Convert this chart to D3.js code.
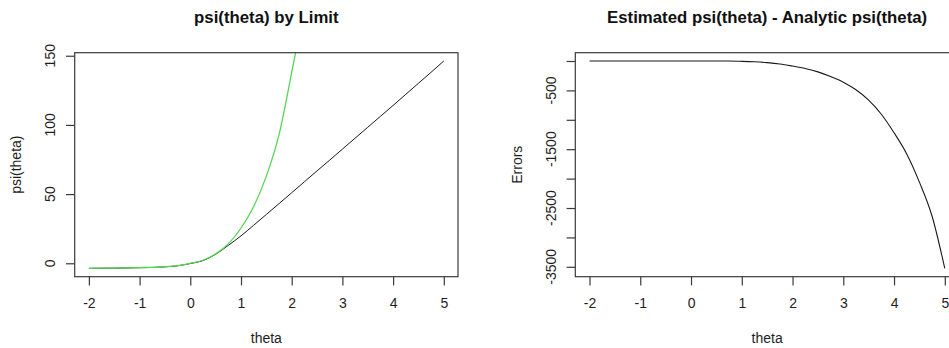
<!DOCTYPE html>
<html>
<head>
<meta charset="utf-8">
<script src="https://cdn.jsdelivr.net/npm/d3@7"></script>
<style>
    body { margin: 0; background: #fff; }
    svg text { font-family: "Liberation Sans", Arial, sans-serif; fill: #1e1e1e; }
    .title { font-size: 16.8px; font-weight: bold; fill: #111; }
    .lab { font-size: 14px; }
</style>
</head>
<body>
<div id="chart"></div>
<script>
/* jshint esversion: 6 */

// theta grid used for every series
var theta = [-2, -1.75, -1.5, -1.25, -1, -0.75, -0.5, -0.25, 0, 0.25, 0.5, 0.75, 1,
             1.25, 1.5, 1.75, 2, 2.25, 2.5, 2.75, 3, 3.25, 3.5, 3.75, 4, 4.25, 4.5, 4.75, 5];

// psi(theta) estimated by the limit (black)
var psiLimit = [-3.7, -3.6, -3.5, -3.4, -3.2, -3.0, -2.6, -1.8, -0.2, 2.0, 6.5, 13.0, 19.8,
                27.5, 35.3, 43.1, 51.0, 58.9, 66.8, 74.6, 82.5, 90.4, 98.3, 106.2, 114.1,
                122.1, 130.1, 138.1, 146.2];

// analytic psi(theta) (green)
var psiAnalytic = [-3.6, -3.5, -3.4, -3.3, -3.1, -2.9, -2.5, -1.7, 0, 2.2, 6.8, 14, 25.5,
                   41, 63, 93, 138, 187, 252, 340, 442, 580, 763, 1011, 1334,
                   1702, 2190, 2778, 3673];

// estimated - analytic
var errors = [0, 0, 0, 0, 0, 0, 0, 0, -0.2, -0.2, -0.3, -1, -6,
              -14, -28, -50, -86, -128, -185, -265, -360, -490, -665, -905, -1220,
              -1580, -2060, -2640, -3527];

var xTicks = [-2, -1, 0, 1, 2, 3, 4, 5];
var leftYTicks = [0, 50, 100, 150];
var rightYTicks = [0, -500, -1000, -1500, -2000, -2500, -3000, -3500];
var rightYLabels = [-500, -1500, -2500, -3500];

(function()
{
    "use strict";

    var W = 949, H = 348;
    var svg = d3.select("#chart").append("svg")
                .attr("width", W)
                .attr("height", H);

    // R style range: data extent padded by 4% each side
    function rRange(ext)
    {
        var d = (ext[1] - ext[0]) * 0.04;
        return [ext[0] - d, ext[1] + d];
    }

    // #########################################################################
    function panel(opt)
    {
        var box = opt.box;   // [x0, y0, x1, y1]
        var x = d3.scaleLinear().domain(rRange(d3.extent(theta))).range([box[0], box[2]]);
        var y = d3.scaleLinear().domain(rRange(d3.extent(opt.yData))).range([box[3], box[1]]);
        var g = svg.append("g");
        var tick = 8.7;

        var clipId = "clip" + opt.id;
        svg.append("clipPath").attr("id", clipId)
           .append("rect")
           .attr("x", box[0]).attr("y", box[1])
           .attr("width", box[2] - box[0]).attr("height", box[3] - box[1]);

        // lines
        opt.series.forEach(function(s) {
            var line = d3.line()
                         .curve(d3.curveMonotoneX)
                         .x(function(d, i) { return x(theta[i]); })
                         .y(function(d) { return y(d); });
            g.append("path")
             .datum(s.values)
             .attr("clip-path", "url(#" + clipId + ")")
             .attr("fill", "none")
             .attr("stroke", s.color)
             .attr("stroke-width", s.width)
             .attr("stroke-linejoin", "round")
             .attr("d", line);
        });

        // box
        g.append("rect")
         .attr("x", box[0]).attr("y", box[1])
         .attr("width", box[2] - box[0]).attr("height", box[3] - box[1])
         .attr("fill", "none")
         .attr("stroke", "#3a3a3a")
         .attr("stroke-width", 1.2);

        // x axis ticks + labels
        var xAxis = d3.axisBottom(x).tickValues(xTicks).tickSize(tick).tickPadding(13)
                      .tickFormat(function(d) { return String(d).replace("\u2212", "-"); });
        var gx = g.append("g")
                  .attr("transform", "translate(0," + box[3] + ")")
                  .call(xAxis);
        gx.select(".domain").remove();
        gx.selectAll(".tick line").attr("stroke", "#3a3a3a").attr("stroke-width", 1.2);
        gx.selectAll(".tick text")
          .attr("class", "lab")
          .attr("fill", null)
          .attr("font-size", null)
          .attr("font-family", null);

        // y axis ticks
        var yAxis = d3.axisLeft(y).tickValues(opt.yTicks).tickSize(tick).tickFormat("");
        var gy = g.append("g")
                  .attr("transform", "translate(" + box[0] + ",0)")
                  .call(yAxis);
        gy.select(".domain").remove();
        gy.selectAll(".tick line").attr("stroke", "#3a3a3a").attr("stroke-width", 1.2);

        // rotated y tick labels (R las=0)
        g.selectAll(".ylab")
         .data(opt.yLabels)
         .enter().append("text")
         .attr("class", "lab")
         .attr("text-anchor", "middle")
         .attr("transform", function(d) {
             return "translate(" + (box[0] - 19.7) + "," + y(d) + ") rotate(-90)";
         })
         .text(function(d) { return d; });

        // titles
        var cx = (box[0] + box[2]) / 2;
        var cy = (box[1] + box[3]) / 2;
        g.append("text").attr("class", "title")
         .attr("x", cx).attr("y", 23)
         .attr("text-anchor", "middle")
         .text(opt.title);
        g.append("text").attr("class", "lab")
         .attr("x", cx).attr("y", 343)
         .attr("text-anchor", "middle")
         .text("theta");
        g.append("text").attr("class", "lab")
         .attr("text-anchor", "middle")
         .attr("transform", "translate(" + (box[0] - 53.6) + "," + cy + ") rotate(-90)")
         .text(opt.yTitle);
    }
    // #########################################################################

    panel({
        id: "L",
        box: [74.7, 52.7, 458, 276.7],
        yData: psiLimit,
        yTicks: leftYTicks,
        yLabels: leftYTicks,
        title: "psi(theta) by Limit",
        yTitle: "psi(theta)",
        series: [
            { values: psiLimit, color: "#1a1a1a", width: 1 },
            { values: psiAnalytic, color: "#55d655", width: 1.3 }
        ]
    });

    panel({
        id: "R",
        box: [575.3, 52.7, 959, 276.7],
        yData: errors,
        yTicks: rightYTicks,
        yLabels: rightYLabels,
        title: "Estimated psi(theta) - Analytic psi(theta)",
        yTitle: "Errors",
        series: [
            { values: errors, color: "#1a1a1a", width: 1.1 }
        ]
    });
})();
</script>
</body>
</html>
